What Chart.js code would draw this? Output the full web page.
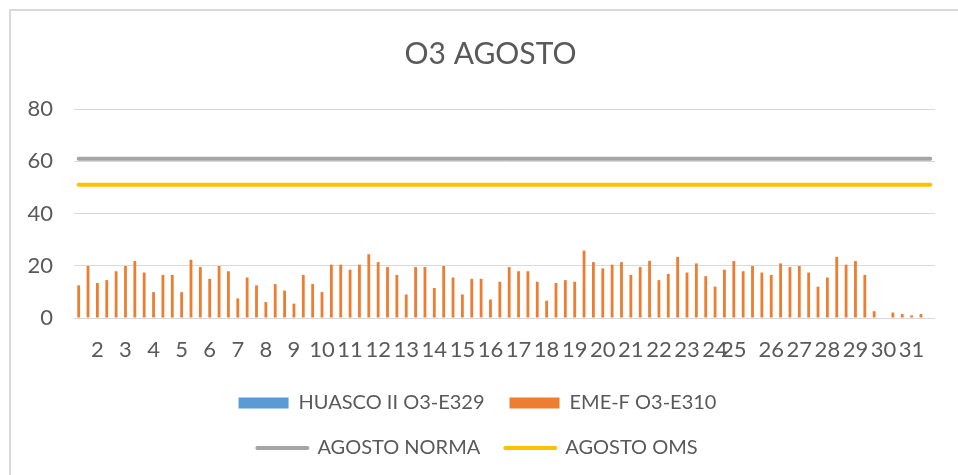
<!DOCTYPE html>
<html>
<head>
<meta charset="utf-8">
<script src="https://cdn.jsdelivr.net/npm/chart.js@4"></script>
<style>
  html, body { margin: 0; padding: 0; background: #fff; }
  #wrap { position: relative; width: 958px; height: 475px; overflow: hidden; }
  #frame { position: absolute; left: 9px; top: 9px; width: 980px; height: 500px;
           border-left: 2px solid #d9d9d9; border-top: 2px solid #d9d9d9; }
  #o3Chart { position: absolute; left: 0; top: 0; }
</style>
</head>
<body>
<div id="wrap">
  <div id="frame"></div>
  <canvas id="o3Chart" width="958" height="475"></canvas>
</div>
<script>
// categories (3 readings per day, day number shown on some of them)
const categories = [
    '', '', '2',  '', '', '3',  '', '', '4',  '', '', '5',  '', '', '6',
    '', '', '7',  '', '', '8',  '', '', '9',  '', '', '10', '', '', '11',
    '', '', '12', '', '', '13', '', '', '14', '', '', '15', '', '', '16',
    '', '', '17', '', '', '18', '', '', '19', '', '', '20', '', '', '21',
    '', '', '22', '', '', '23', '', '', '24',
    '', '25', '', '', '', '26', '', '', '27', '', '', '28', '', '', '29',
    '', '', '30', '', '', '31', '', ''
];

// HUASCO II O3-E329 has no readings this month
const huascoValues = [];

// EME-F O3-E310
const emeValues = [
    12.5, 19.9, 13.4, 14.5, 17.9, 19.9, 21.8, 17.4, 9.9, 16.5,
    16.5, 9.9, 22.3, 19.5, 15.0, 19.9, 17.9, 7.5, 15.5, 12.5,
    6.1, 13.0, 10.5, 5.5, 16.5, 13.0, 9.9, 20.4, 20.4, 18.5,
    20.4, 24.4, 21.4, 19.5, 16.5, 9.0, 19.5, 19.5, 11.5, 19.9,
    15.5, 9.0, 15.0, 15.0, 7.1, 13.9, 19.5, 17.9, 17.9, 13.9,
    6.6, 13.4, 14.5, 13.9, 25.8, 21.4, 19.0, 20.4, 21.4, 16.5,
    19.5, 21.9, 14.5, 16.9, 23.4, 17.4, 20.9, 16.0, 12.0, 18.5,
    21.8, 17.9, 19.9, 17.4, 16.5, 20.9, 19.5, 19.9, 17.4, 12.0,
    15.5, 23.4, 20.4, 21.8, 16.5, 2.6, null, 2.1, 1.5, 1.0,
    1.5, null
];

// AGOSTO NORMA
const normaValues = [
    61, 61, 61, 61, 61, 61, 61, 61, 61, 61, 61, 61, 61, 61, 61, 61, 61, 61, 61, 61, 61, 61, 61,
    61, 61, 61, 61, 61, 61, 61, 61, 61, 61, 61, 61, 61, 61, 61, 61, 61, 61, 61, 61, 61, 61, 61,
    61, 61, 61, 61, 61, 61, 61, 61, 61, 61, 61, 61, 61, 61, 61, 61, 61, 61, 61, 61, 61, 61, 61,
    61, 61, 61, 61, 61, 61, 61, 61, 61, 61, 61, 61, 61, 61, 61, 61, 61, 61, 61, 61, 61, 61, 61
];

// AGOSTO OMS
const omsValues = [
    51, 51, 51, 51, 51, 51, 51, 51, 51, 51, 51, 51, 51, 51, 51, 51, 51, 51, 51, 51, 51, 51, 51,
    51, 51, 51, 51, 51, 51, 51, 51, 51, 51, 51, 51, 51, 51, 51, 51, 51, 51, 51, 51, 51, 51, 51,
    51, 51, 51, 51, 51, 51, 51, 51, 51, 51, 51, 51, 51, 51, 51, 51, 51, 51, 51, 51, 51, 51, 51,
    51, 51, 51, 51, 51, 51, 51, 51, 51, 51, 51, 51, 51, 51, 51, 51, 51, 51, 51, 51, 51, 51, 51
];

const yTicks = [0, 20, 40, 60, 80];

Chart.defaults.font.family = 'Lato, "Liberation Sans", sans-serif';
Chart.defaults.color = '#595959';

// legend in two rows, title nudged right, like the spreadsheet
const excelLayout = {
    id: 'excelLayout',
    afterInit(chart) {
        const lg = chart.legend;
        const update = lg.update;
        lg.update = function (maxWidth, maxHeight, margins) {
            update.call(this, 560, maxHeight, margins);
            this.height = 107;
        };
    },
    afterLayout(chart) {
        if (chart.titleBlock) chart.titleBlock.left += 26;
    }
};

const ctx = document.getElementById('o3Chart');
new Chart(ctx, {
    data: {
        labels: categories,
        datasets: [{
            type: 'bar',
            label: 'HUASCO II O3-E329',
            data: huascoValues,
            backgroundColor: '#5B9BD5',
            grouped: false,
            barPercentage: 0.3,
            categoryPercentage: 1
        }, {
            type: 'bar',
            label: 'EME-F O3-E310',
            data: emeValues,
            backgroundColor: '#ED7D31',
            grouped: false,
            barPercentage: 0.3,
            categoryPercentage: 1
        }, {
            type: 'line',
            label: 'AGOSTO NORMA',
            data: normaValues,
            borderColor: '#A5A5A5',
            borderWidth: 4,
            borderCapStyle: 'round',
            pointRadius: 0
        }, {
            type: 'line',
            label: 'AGOSTO OMS',
            data: omsValues,
            borderColor: '#FFC000',
            borderWidth: 4,
            borderCapStyle: 'round',
            pointRadius: 0
        }]
    },
    options: {
        responsive: false,
        animation: false,
        devicePixelRatio: 1,
        layout: { padding: { left: 20, right: 23, top: 0, bottom: 0 } },
        scales: {
            x: {
                offset: true,
                grid: { display: false },
                border: { display: false },
                ticks: {
                    autoSkip: false,
                    maxRotation: 0,
                    padding: 11,
                    font: { size: 22 },
                    color: '#595959'
                },
                afterFit(scale) { scale.height = 50; }
            },
            y: {
                min: 0,
                max: 80,
                afterBuildTicks(scale) { scale.ticks = yTicks.map(v => ({ value: v })); },
                grid: { color: '#D9D9D9', lineWidth: 1, drawTicks: false },
                border: { display: false },
                ticks: { padding: 21, font: { size: 22 }, color: '#595959' },
                afterFit(scale) { scale.width = 54; }
            }
        },
        plugins: {
            title: {
                display: true,
                text: 'O3 AGOSTO',
                color: '#595959',
                font: { size: 30, weight: 'normal' },
                padding: { top: 36, bottom: 37 }
            },
            legend: {
                position: 'bottom',
                labels: {
                    usePointStyle: true,
                    pointStyleWidth: 50,
                    boxHeight: 11,
                    padding: 25,
                    color: '#595959',
                    font: { size: 20 },
                    generateLabels(chart) {
                        const items = Chart.defaults.plugins.legend.labels.generateLabels(chart);
                        items.forEach(it => {
                            const ds = chart.data.datasets[it.datasetIndex];
                            if (ds.type === 'line') {
                                it.pointStyle = 'line';
                                it.strokeStyle = ds.borderColor;
                                it.lineWidth = 4;
                                it.lineCap = 'round';
                            } else {
                                it.pointStyle = 'rect';
                                it.fillStyle = ds.backgroundColor;
                                it.lineWidth = 0;
                            }
                        });
                        return items;
                    }
                }
            },
            tooltip: { enabled: false }
        }
    },
    plugins: [excelLayout]
});
</script>
</body>
</html>
